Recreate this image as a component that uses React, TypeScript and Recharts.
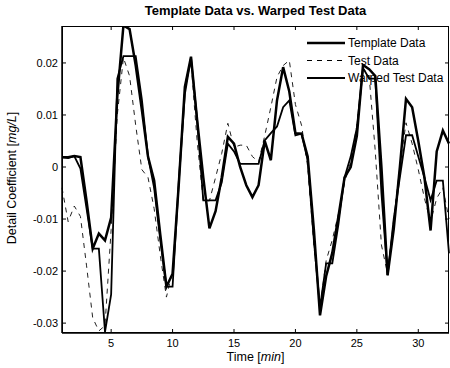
import { Line, LineChart, XAxis, YAxis } from "recharts";

const TIME = [
  1, 1.5, 2, 2.5, 3, 3.5, 4, 4.5, 5, 5.5, 6, 6.5, 7, 7.5, 8, 8.5, 9, 9.5, 10, 10.5, 11, 11.5, 12, 12.5, 13, 13.5,
  14, 14.5, 15, 15.5, 16, 16.5, 17, 17.5, 18, 18.5, 19, 19.5, 20, 20.5, 21, 21.5, 22, 22.5, 23, 23.5, 24, 24.5, 25,
  25.5, 26, 26.5, 27, 27.5, 28, 28.5, 29, 29.5, 30, 30.5, 31, 31.5, 32, 32.5,
];

const TEMPLATE = [
  0.0019, 0.0019, 0.0021, 0.0019, -0.0065, -0.0157, -0.0128, -0.0141, -0.0097, 0.0135, 0.0272, 0.0265, 0.0195, 0.011,
  0.002, -0.0026, -0.013, -0.023, -0.0205, -0.0035, 0.0154, 0.0212, 0.009, -0.002, -0.0118, -0.0085, -0.002, 0.0058,
  0.0045, 0.0, -0.0035, -0.0058, -0.0035, 0.005, 0.0013, 0.0128, 0.0192, 0.0145, 0.0065, 0.0064, 0.002, -0.012,
  -0.0285, -0.021, -0.0165, -0.0095, -0.002, 0.0, 0.006, 0.0196, 0.0188, 0.0175, 0.0, -0.0208, -0.012, 0.0, 0.0131,
  0.0115, 0.005, -0.002, -0.0122, 0.003, 0.007, 0.0045,
];

const TEST = [
  -0.004, -0.0105, -0.0075, -0.0095, -0.019, -0.029, -0.0315, -0.0305, -0.012, 0.01, 0.021, 0.0175, 0.008, -0.0005,
  -0.002, -0.008, -0.017, -0.025, -0.02, -0.003, 0.016, 0.02, 0.005, -0.0065, -0.0065, -0.002, 0.0026, 0.0084, 0.0038,
  0.0042, 0.0042, 0.002, 0.001, 0.006, 0.0115, 0.0173, 0.0195, 0.0205, 0.012, 0.008, 0.0, -0.015, -0.027, -0.018,
  -0.014, -0.009, -0.003, 0.001, 0.008, 0.019, 0.0175, 0.003, -0.015, -0.0205, -0.01, 0.0, 0.0085, 0.0045, -0.0005,
  -0.006, -0.0105, -0.006, -0.004, -0.01,
];

const WARPED = [
  0.0019, 0.0017, 0.0021, -0.0003, -0.008, -0.0157, -0.0157, -0.0317, -0.0245, 0.017, 0.0213, 0.0213, 0.0213, 0.013,
  0.002, -0.004, -0.014, -0.023, -0.023, -0.003, 0.014, 0.021, 0.009, -0.0064, -0.0064, -0.0064, -0.003, 0.0045, 0.003,
  0.0006, 0.0006, 0.0006, 0.0006, 0.0051, 0.0065, 0.0078, 0.0115, 0.0128, 0.0061, 0.0064, 0.0013, -0.014, -0.027,
  -0.0185, -0.0185, -0.011, -0.002, 0.002, 0.0075, 0.019, 0.017, 0.017, -0.005, -0.0208, -0.01, -0.002, 0.0061, 0.0061,
  0.002, -0.002, -0.0064, -0.0026, -0.0026, -0.0166,
];

const X_TICKS = [5, 10, 15, 20, 25, 30];
const Y_TICKS = [-0.03, -0.02, -0.01, 0, 0.01, 0.02];

const data = TIME.map((t, i) => ({ t, template: TEMPLATE[i], test: TEST[i], warped: WARPED[i] }));

// plot box
const LEFT = 62;
const TOP = 26;
const RIGHT = 449;
const BOTTOM = 333;
const FONT = "'Liberation Sans', Arial, sans-serif";

function XTick(props: any) {
  const { x, payload } = props;
  return (
    <g>
      <line x1={x} x2={x} y1={BOTTOM} y2={BOTTOM - 4} stroke="#000" />
      <line x1={x} x2={x} y1={TOP} y2={TOP + 4} stroke="#000" />
      <text x={x} y={BOTTOM + 14} textAnchor="middle" fontSize={11} fontFamily={FONT} fill="#000">
        {payload.value}
      </text>
    </g>
  );
}

function YTick(props: any) {
  const { y, payload } = props;
  return (
    <g>
      <line x1={LEFT} x2={LEFT + 4} y1={y} y2={y} stroke="#000" />
      <line x1={RIGHT - 4} x2={RIGHT} y1={y} y2={y} stroke="#000" />
      <text x={LEFT - 4} y={y + 4} textAnchor="end" fontSize={11} fontFamily={FONT} fill="#000">
        {payload.value}
      </text>
    </g>
  );
}

const LEGEND_ITEMS = [
  { label: "Template Data", width: 2.5, dash: undefined },
  { label: "Test Data", width: 1, dash: "5 5" },
  { label: "Warped Test Data", width: 1.8, dash: undefined },
];

function ChartLegend() {
  return (
    <svg width={145} height={56} style={{ position: "absolute", left: 305, top: 34, pointerEvents: "none" }}>
      {LEGEND_ITEMS.map((it, i) => (
        <g key={it.label}>
          <line x1={2} x2={40} y1={9 + i * 17.5} y2={9 + i * 17.5} stroke="#000" strokeWidth={it.width} strokeDasharray={it.dash} />
          <text x={43} y={13 + i * 17.5} fontSize={12} fontFamily={FONT} fill="#000">
            {it.label}
          </text>
        </g>
      ))}
    </svg>
  );
}

export default function App() {
  return (
    <div style={{ position: "absolute", left: 0, top: 0, width: 450, height: 368, background: "#fff" }}>
      <LineChart width={450} height={368} data={data} margin={{ top: TOP, right: 450 - RIGHT, bottom: 0, left: 0 }}>
        <XAxis
          dataKey="t"
          type="number"
          domain={[1, 32.5]}
          ticks={X_TICKS}
          height={368 - BOTTOM}
          tickLine={false}
          tickSize={0}
          axisLine={{ stroke: "#000", strokeWidth: 1.5 }}
          tick={XTick}
          interval={0}
        />
        <YAxis
          type="number"
          domain={[-0.0319, 0.0271]}
          ticks={Y_TICKS}
          width={LEFT}
          tickLine={false}
          tickSize={0}
          axisLine={{ stroke: "#000", strokeWidth: 1.5 }}
          tick={YTick}
          interval={0}
          allowDataOverflow
        />
        <Line dataKey="test" stroke="#222" strokeWidth={1} strokeDasharray="5 5" dot={false} isAnimationActive={false} />
        <Line dataKey="warped" stroke="#000" strokeWidth={1.8} dot={false} isAnimationActive={false} />
        <Line dataKey="template" stroke="#000" strokeWidth={2.5} dot={false} isAnimationActive={false} />
      </LineChart>
      <ChartLegend />
      <div
        style={{
          position: "absolute",
          left: LEFT,
          top: TOP,
          width: RIGHT - LEFT,
          height: BOTTOM - TOP,
          boxSizing: "border-box",
          border: "1px solid #000",
          pointerEvents: "none",
        }}
      />
      <div
        style={{
          position: "absolute",
          left: LEFT,
          width: RIGHT - LEFT,
          top: 3,
          textAlign: "center",
          fontFamily: FONT,
          fontWeight: "bold",
          fontSize: 13,
        }}
      >
        Template Data vs. Warped Test Data
      </div>
      <div
        style={{
          position: "absolute",
          left: LEFT,
          width: RIGHT - LEFT,
          top: 350,
          textAlign: "center",
          fontFamily: FONT,
          fontSize: 12.5,
        }}
      >
        Time [<i>min</i>]
      </div>
      <div
        style={{
          position: "absolute",
          left: 12,
          top: 178,
          transform: "translate(-50%, -50%) rotate(-90deg)",
          whiteSpace: "nowrap",
          fontFamily: FONT,
          fontSize: 12.5,
        }}
      >
        Detail Coefficient [<i>mg/L</i>]
      </div>
    </div>
  );
}
